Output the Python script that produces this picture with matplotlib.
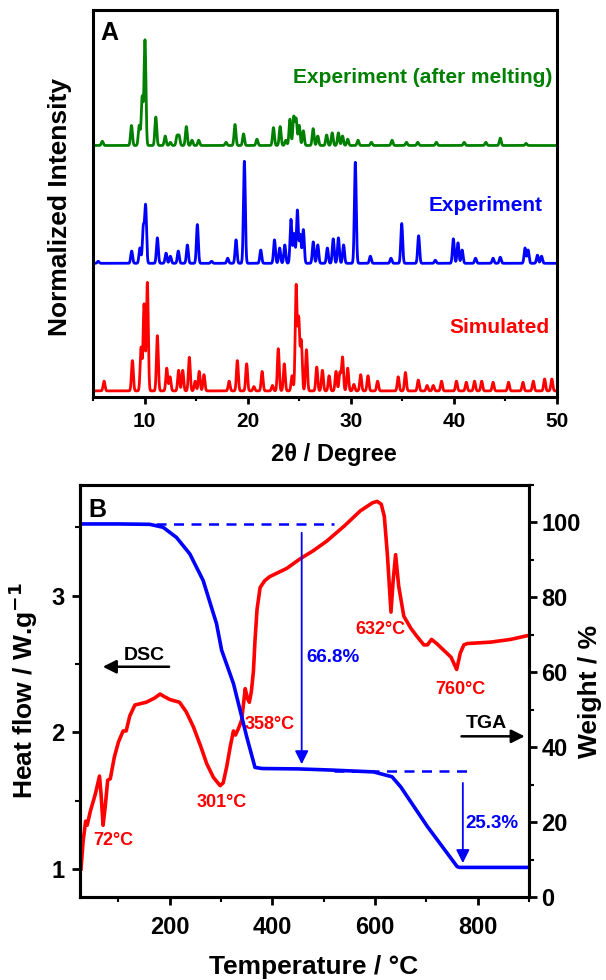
import numpy as np
import matplotlib
matplotlib.use('Agg')
import matplotlib.pyplot as plt
from matplotlib.ticker import MultipleLocator

plt.rcParams['font.family'] = ['Liberation Sans', 'DejaVu Sans']
plt.rcParams['font.weight'] = 'bold'
plt.rcParams['mathtext.default'] = 'bf'

# ---- panel A: XRD peaks (2theta, relative height %) ----
sim_pos = [6.07, 8.82, 9.66, 9.95, 10.27, 11.24, 12.15, 12.47, 13.3, 13.7, 14.34, 14.9, 15.3, 15.76,
           18.2, 19.0, 19.9, 20.6, 21.4, 22.4, 22.97, 23.55, 24.3, 24.7, 24.95, 25.2, 25.7, 26.7, 27.25,
           27.9, 28.57, 28.95, 29.2, 29.7, 30.3, 30.96, 31.67, 32.6, 34.6, 35.3, 36.55, 37.4, 38.0, 38.8,
           40.25, 41.2, 42.0, 42.7, 43.8, 45.3, 46.7, 47.7, 48.8, 49.5]
sim_int = [9, 28, 40, 80, 100, 51, 21, 13, 19, 19, 31, 9, 18, 15,
           9, 28, 25, 4, 18, 5, 39, 25, 14, 97, 66, 46, 38, 22, 19,
           14, 18, 17, 31, 21, 6, 15, 14, 9, 13, 17, 10, 5, 5, 9,
           9, 8, 9, 9, 8, 8, 8, 9, 11, 11]

exp_pos = [5.5, 8.75, 9.55, 9.88, 10.1, 11.24, 12.08, 12.5, 13.27, 14.15, 15.12, 16.5, 18.06, 18.87,
           19.68, 21.27, 22.6, 23.1, 23.6, 24.2, 24.5, 24.82, 25.1, 25.4, 26.36, 26.8, 27.73, 28.3,
           28.8, 29.3, 30.44, 31.9, 33.9, 34.94, 36.58, 38.2, 39.95, 40.4, 40.8, 42.1, 43.8, 44.5,
           46.9, 47.2, 48.1, 48.5]
exp_int = [2, 12, 15, 35, 56, 25, 10, 7, 12, 18, 38, 2, 5, 23,
           100, 13, 23, 15, 18, 43, 29, 52, 28, 33, 21, 18, 15, 24,
           25, 18, 99, 7, 5, 39, 27, 3, 24, 20, 13, 5, 5, 6,
           15, 13, 8, 7]

melt_pos = [5.9, 8.73, 9.48, 9.77, 10.04, 11.09, 12.0, 12.5, 13.15, 13.35, 14.05, 14.6, 15.25, 17.9,
            18.77, 19.6, 20.9, 22.5, 23.15, 23.7, 24.1, 24.47, 24.7, 25.0, 25.4, 26.35, 26.8, 27.66,
            28.2, 28.8, 29.2, 29.7, 30.7, 32.0, 34.0, 35.4, 36.5, 38.3, 41.0, 43.1, 44.5, 47.0]
melt_int = [4, 19, 19, 46, 100, 27, 9, 3, 9, 9, 18, 5, 5, 3,
            20, 11, 6, 17, 18, 5, 25, 27, 25, 19, 14, 16, 9, 10,
            12, 12, 9, 6, 5, 3, 5, 3, 3, 3, 3, 3, 7, 2]

# ---- panel B: DSC (W/g) and TGA (%) ----
dsc_T = [27, 31, 36, 39, 45, 55, 63, 66, 70, 74, 79, 84, 92, 100, 109, 115, 122, 132, 154, 170,
         181, 190, 200, 219, 232, 246, 260, 272, 285, 298, 304, 311, 318, 324, 328, 334, 340, 347,
         351, 355, 359, 363, 366, 370, 376, 385, 395, 428, 454, 480, 506, 540, 571, 595, 604, 612,
         618, 624, 631, 635, 640, 646, 656, 670, 682, 695, 702, 710, 720, 734, 748, 759, 766, 773,
         780, 825, 864, 900]
dsc_hf = [1.00, 1.20, 1.35, 1.32, 1.42, 1.55, 1.68, 1.55, 1.32, 1.45, 1.65, 1.66, 1.82, 1.93, 2.01,
          2.01, 2.12, 2.20, 2.22, 2.25, 2.28, 2.26, 2.24, 2.22, 2.15, 2.04, 1.90, 1.77, 1.67, 1.61,
          1.63, 1.75, 1.90, 2.01, 1.98, 2.03, 2.09, 2.32, 2.25, 2.22, 2.30, 2.45, 2.67, 2.90, 3.06,
          3.11, 3.14, 3.20, 3.27, 3.33, 3.40, 3.51, 3.62, 3.68, 3.69, 3.67, 3.58, 3.30, 2.88, 3.10,
          3.30, 3.07, 2.85, 2.76, 2.70, 2.64, 2.64, 2.68, 2.65, 2.60, 2.55, 2.46, 2.58, 2.64, 2.65,
          2.66, 2.68, 2.71]

tga_T = [27, 100, 161, 187, 213, 239, 265, 291, 301, 324, 350, 366, 380, 450, 513, 597, 633, 650,
         702, 760, 765, 900]
tga_w = [99.6, 99.6, 99.5, 98.7, 96.0, 91.6, 84.5, 73.0, 65.9, 57.0, 42.7, 34.6, 34.3, 34.2, 33.9,
         33.4, 32.1, 29.4, 18.8, 8.1, 7.9, 7.9]


def pattern(x, pos, inten, width=0.09):
    y = np.zeros_like(x)
    for c, h in zip(pos, inten):
        y += h / 100.0 * np.exp(-0.5 * ((x - c) / width) ** 2)
    return y


fig = plt.figure(figsize=(6.06, 9.8), dpi=100)

# ================= A =================
axA = fig.add_axes([0.1535, 0.595, 0.7656, 0.395])
tt = np.linspace(5, 50, 4501)
axA.plot(tt, 0.057 + 1.03 * pattern(tt, sim_pos, sim_int), color='#ff0000', lw=2.0)
axA.plot(tt, 1.27 + 0.97 * pattern(tt, exp_pos, exp_int), color='#0000ff', lw=2.0)
axA.plot(tt, 2.39 + 1.0 * pattern(tt, melt_pos, melt_int), color='#008000', lw=2.0)

axA.set_xlim(5, 50)
axA.set_ylim(0, 3.68)
axA.set_yticks([])
axA.xaxis.set_major_locator(MultipleLocator(10))
axA.xaxis.set_minor_locator(MultipleLocator(5))
axA.tick_params(axis='x', which='major', direction='out', length=5, width=2, labelsize=15, pad=6)
axA.tick_params(axis='x', which='minor', direction='out', length=3, width=1.5)
for s in axA.spines.values():
    s.set_linewidth(2.2)
axA.set_xlabel('2θ / Degree', fontsize=17, fontweight='bold')
axA.xaxis.set_label_coords(0.52, -0.12)
axA.set_ylabel('Normalized Intensity', fontsize=19, fontweight='bold')
axA.yaxis.set_label_coords(-0.045, 0.49)

axA.text(49.6, 3.04, 'Experiment (after melting)', color='#008000', fontsize=15,
         fontweight='bold', ha='right', va='center')
axA.text(48.65, 1.82, 'Experiment', color='#0000ff', fontsize=15, fontweight='bold',
         ha='right', va='center')
axA.text(49.3, 0.657, 'Simulated', color='#ff0000', fontsize=15, fontweight='bold',
         ha='right', va='center')
axA.text(0.015, 0.97, 'A', transform=axA.transAxes, fontsize=18, fontweight='bold',
         ha='left', va='top')

# ================= B =================
ax = fig.add_axes([0.132, 0.0847, 0.741, 0.4204])
ax2 = ax.twinx()

ax.plot(dsc_T, dsc_hf, color='#ff0000', lw=2.6, zorder=3)
ax2.plot(tga_T, tga_w, color='#0000ff', lw=2.6)
ax2.plot([174, 519], [99.6, 99.6], color='#0000ff', lw=1.8, ls=(0, (4, 3)))
ax2.plot([520, 783], [33.7, 33.7], color='#0000ff', lw=1.8, ls=(0, (4, 3)))
ax2.annotate('', xy=(457, 34.7), xytext=(457, 98.0),
             arrowprops=dict(arrowstyle='-|>', color='#0000ff', lw=1.3, mutation_scale=20))
ax2.annotate('', xy=(771, 8.3), xytext=(771, 31.2),
             arrowprops=dict(arrowstyle='-|>', color='#0000ff', lw=1.3, mutation_scale=20))

ax.set_xlim(25, 900)
ax.set_ylim(0.795, 3.81)
ax2.set_ylim(0, 110)
ax.xaxis.set_major_locator(MultipleLocator(200))
ax.xaxis.set_minor_locator(MultipleLocator(100))
ax.yaxis.set_major_locator(MultipleLocator(1))
ax.yaxis.set_minor_locator(MultipleLocator(0.5))
ax2.yaxis.set_major_locator(MultipleLocator(20))
ax2.yaxis.set_minor_locator(MultipleLocator(10))
ax.tick_params(which='major', direction='out', length=6, width=2, labelsize=17)
ax.tick_params(which='minor', direction='out', length=3.5, width=1.5)
ax.tick_params(axis='x', pad=8)
ax.tick_params(axis='y', pad=5)
ax2.tick_params(which='major', direction='out', length=6, width=2, labelsize=17, pad=3)
ax2.tick_params(which='minor', direction='out', length=3.5, width=1.5)
for a in (ax, ax2):
    for s in a.spines.values():
        s.set_linewidth(2.2)

ax.set_xlabel('Temperature / °C', fontsize=19, fontweight='bold')
ax.xaxis.set_label_coords(0.521, -0.14)
ax.set_ylabel('Heat flow / W.g$^{-1}$', fontsize=19, fontweight='bold')
ax.yaxis.set_label_coords(-0.089, 0.5)
ax2.set_ylabel('Weight / %', fontsize=19, fontweight='bold')
ax2.yaxis.set_label_coords(1.109, 0.5)

red_labels = [('72°C', 90.6, 1.21), ('301°C', 301, 1.485), ('358°C', 395, 2.06),
              ('632°C', 611, 2.75), ('760°C', 767, 2.31)]
for txt, tx, ty in red_labels:
    ax.text(tx, ty, txt, color='#ff0000', fontsize=13, fontweight='bold', ha='center', va='center')

ax2.text(517.6, 64, '66.8%', color='#0000ff', fontsize=13.5, fontweight='bold',
         ha='center', va='center')
ax2.text(827, 19.6, '25.3%', color='#0000ff', fontsize=13.5, fontweight='bold',
         ha='center', va='center')

ax.annotate('', xy=(64, 2.48), xytext=(204, 2.48),
            arrowprops=dict(arrowstyle='-|>', color='black', lw=1.8, mutation_scale=20))
ax.text(151, 2.56, 'DSC', fontsize=14, fontweight='bold', ha='center', va='center')
ax2.annotate('', xy=(897, 42.9), xytext=(763, 42.9),
             arrowprops=dict(arrowstyle='-|>', color='black', lw=1.8, mutation_scale=20))
ax2.text(817, 46.4, 'TGA', fontsize=14, fontweight='bold', ha='center', va='center')
ax.text(0.018, 0.968, 'B', transform=ax.transAxes, fontsize=18, fontweight='bold',
        ha='left', va='top')

fig.savefig('out.png', dpi=100)
